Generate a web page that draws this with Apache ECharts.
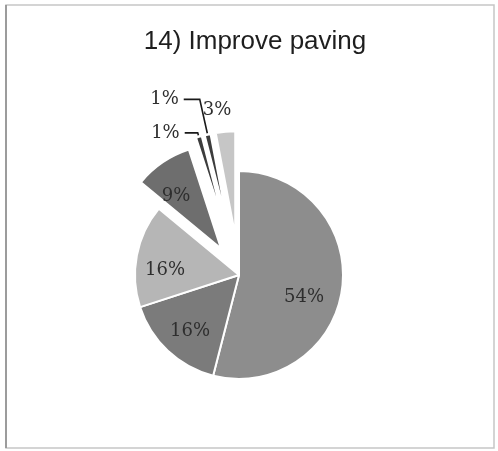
<!DOCTYPE html>
<html>
<head>
<meta charset="utf-8">
<script src="https://cdn.jsdelivr.net/npm/echarts@6/dist/echarts.min.js"></script>
<style>
  html, body { margin: 0; padding: 0; background: #ffffff; }
  #chart { width: 498px; height: 451px; }
</style>
</head>
<body>
<div id="chart"></div>
<script>
// Survey answers for question 14, share of respondents per answer (%)
const titleText = '14) Improve paving';
const answers = ['A', 'B', 'C', 'D', 'E', 'F', 'G'];
const shares = [54, 16, 16, 9, 1, 1, 3];
const pulledOut = [false, false, false, true, true, true, true];

// Presentation: fills, wedge group, label placement and leader-line lengths per slice
const fills = ['#8d8d8d', '#7b7b7b', '#b6b6b6', '#6e6e6e', '#3c3c3c', '#3c3c3c', '#c6c6c6'];
const wedgeGroup = [0, 0, 0, 0, 1, 1, 1];        // 0: main group, 1: small slices pulled further
const groupPull = [32, 40];
const thinSlice = [false, false, false, false, true, true, false];
const outsideLabel = [false, false, false, false, true, true, true];
const leaderLine = [false, false, false, false, true, true, false];
const leaderLengths = [null, null, null, null, [4, 13], [36, 16], [60, 5]];
// fixed anchor points for labels that are not placed by the leader lines
const labelSpots = [[304, 297], [190, 331], [165, 270], [176, 196], null, null, [217, 110]];

const pieCenter = [239, 275];
const pieRadius = 104;

const chart = echarts.init(document.getElementById('chart'), null, { renderer: 'canvas' });

const clear = 'rgba(0,0,0,0)';

// One wedge series per pull distance; slices of the other group stay invisible
function wedgeSeries(group) {
  return {
    type: 'pie',
    center: pieCenter,
    radius: pieRadius,
    startAngle: 90,
    clockwise: true,
    selectedMode: 'multiple',
    selectedOffset: groupPull[group],
    emphasis: { disabled: true },
    label: { show: false },
    labelLine: { show: false },
    data: answers.map((name, i) => {
      const own = wedgeGroup[i] === group;
      return {
        name: name,
        value: shares[i],
        selected: own && pulledOut[i],
        itemStyle: own
          ? { color: fills[i], borderColor: '#ffffff', borderWidth: thinSlice[i] ? 2.6 : 2 }
          : { color: clear, borderWidth: 0 }
      };
    })
  };
}

// Label layer: same shares, radius reaching the outer edge of the small pulled-out wedges,
// so their leader lines start where those wedges end
const labelData = answers.map((name, i) => {
  const item = {
    name: name,
    value: shares[i],
    label: { position: outsideLabel[i] ? 'outside' : 'inside' },
    labelLine: { show: leaderLine[i] }
  };
  if (leaderLengths[i]) {
    item.labelLine.length = leaderLengths[i][0];
    item.labelLine.length2 = leaderLengths[i][1];
  }
  return item;
});

chart.setOption({
  animation: false,
  backgroundColor: '#ffffff',
  graphic: [
    {
      type: 'rect',
      shape: { x: 6, y: 5, width: 488, height: 443 },
      style: { fill: null, stroke: '#c6c6c6', lineWidth: 1.5 }
    },
    {
      type: 'line',
      shape: { x1: 6, y1: 5, x2: 6, y2: 448 },
      style: { stroke: '#8a8a8a', lineWidth: 1.5 }
    },
    {
      type: 'text',
      x: 255,
      y: 42,
      style: {
        text: titleText,
        font: '26px "Liberation Sans", Arial, sans-serif',
        fill: '#1e1e1e',
        align: 'center',
        verticalAlign: 'middle'
      }
    }
  ],
  series: [
    wedgeSeries(0),
    wedgeSeries(1),
    {
      type: 'pie',
      center: pieCenter,
      radius: pieRadius + groupPull[1],
      startAngle: 90,
      clockwise: true,
      silent: true,
      selectedMode: false,
      avoidLabelOverlap: false,
      emphasis: { disabled: true },
      itemStyle: { color: clear, borderWidth: 0 },
      label: {
        show: true,
        formatter: '{c}%',
        fontFamily: '"DejaVu Serif", "Liberation Serif", serif',
        fontSize: 18,
        color: '#2e2e2e'
      },
      labelLine: {
        smooth: false,
        lineStyle: { color: '#1a1a1a', width: 1.6 }
      },
      labelLayout: function (params) {
        const p = labelSpots[params.dataIndex];
        if (!p) return {};
        return { x: p[0], y: p[1], align: 'center', verticalAlign: 'middle' };
      },
      data: labelData
    }
  ]
});
</script>
</body>
</html>
